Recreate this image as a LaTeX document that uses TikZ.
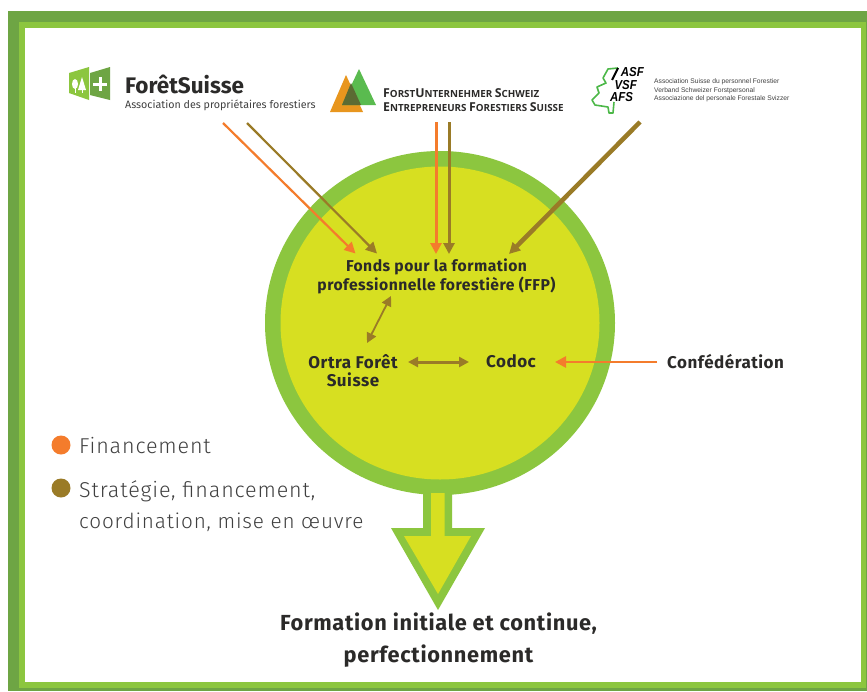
\documentclass[tikz,border=0pt]{standalone}
\usepackage{fontspec}
\usetikzlibrary{arrows.meta}
\setmainfont{Fira Sans}
\newfontfamily\libsans{Liberation Sans}
\newfontfamily\opensans{Open Sans}
\newfontfamily\firawide[LetterSpace=3]{Fira Sans}
\newfontfamily\firawider[LetterSpace=4]{Fira Sans Light}
\definecolor{darkgreen}{HTML}{6EA544}
\definecolor{lightgreen}{HTML}{8CC63F}
\definecolor{lime}{HTML}{D7DF21}
\definecolor{orangeline}{HTML}{F47C2C}
\definecolor{brownline}{HTML}{9A7B27}
\definecolor{inktext}{HTML}{2B2A29}
\definecolor{greytext}{HTML}{404040}
\definecolor{triorange}{HTML}{E8961E}
\definecolor{trigreen}{HTML}{5ABB4F}
\definecolor{trimix}{HTML}{5B6B33}
\definecolor{treegreen}{HTML}{4CB848}
\tikzset{
  flow/.style={line width=#1,-{Triangle[length=11pt,width=11pt]}},
  flow/.default=2.2pt,
  twoway/.style={line width=#1,{Triangle[length=10pt,width=10pt]}-{Triangle[length=10pt,width=10pt]}},
  lbl/.style={font=\firawide\bfseries\fontsize{17}{18.5}\selectfont,text=inktext,align=center,inner sep=0pt},
  lblsmall/.style={font=\firawide\bfseries\fontsize{15.7}{18.5}\selectfont,text=inktext,align=center,inner sep=0pt},
  biglbl/.style={font=\firawide\bfseries\fontsize{21.8}{32}\selectfont,text=inktext,align=center,inner sep=0pt},
  legendtxt/.style={font=\firawider\fontsize{21.5}{31}\selectfont,text=greytext,align=left,anchor=west,inner sep=0pt},
  dot/.style={circle,inner sep=0pt,minimum size=19pt},
  asfletter/.style={inner sep=0pt,xscale=0.88,font=\libsans\bfseries\itshape\fontsize{13}{13}\selectfont},
}
\newcommand{\bigsm}[2]{{\fontsize{12.3}{13}\selectfont #1}{\fontsize{9.8}{13}\selectfont #2}}
\begin{document}
\begin{tikzpicture}[x=1pt,y=-1pt]
\useasboundingbox (0,0) rectangle (867,691);
% frame
\fill[darkgreen] (8,11) rectangle (867,691);
\fill[lightgreen] (19,22) rectangle (866,688);
\fill[white] (25,28) rectangle (861,682);
% circle and big arrow
\fill[lightgreen] (440,323) ellipse (175 and 172);
\fill[lightgreen] (423,480) -- (452,480) -- (452,528) -- (485,528) -- (438,610) -- (391,528) -- (423,528) -- cycle;
\fill[lime] (440,323) ellipse (159.5 and 156.5);
\fill[lime] (431,493) -- (444.5,493) -- (444.5,536) -- (471,536) -- (438,594) -- (404,536) -- (431,536) -- cycle;
% logo ForetSuisse
\fill[lightgreen] (69,73) -- (89,67) -- (89,100) -- (69,93) -- cycle;
\fill[darkgreen] (90,73) -- (110,67) -- (110,100) -- (90,95) -- cycle;
\fill[white] (75,84) ellipse (3 and 5);
\fill[white] (74.5,84) rectangle (75.5,93);
\fill[white] (82,77) -- (86,90) -- (78,90) -- cycle;
\fill[white] (81.5,88) rectangle (82.5,93);
\fill[white] (98.5,77) rectangle (101.5,91);
\fill[white] (93,82.5) rectangle (107,85.5);
\node[anchor=west,inner sep=0pt,text=inktext,font=\bfseries\fontsize{22.5}{22}\selectfont] (fsname) at (125,84) {ForêtSuisse};
\node[anchor=west,inner sep=0pt,text=greytext,font=\fontsize{10.7}{12}\selectfont] (fssub) at (125,105) {Association des propriétaires forestiers};
% logo FUS
\fill[triorange] (346,75) -- (363,112) -- (330,112) -- cycle;
\fill[trigreen] (359,69) -- (376,105) -- (342,105) -- cycle;
\fill[trimix] (351,83) -- (361,105) -- (342,105) -- cycle;
\node[anchor=west,inner sep=0pt,text=inktext,font=\opensans\bfseries] (fus1) at (383,93) {\bigsm{F}{ORST}\bigsm{U}{NTERNEHMER} \bigsm{S}{CHWEIZ}};
\node[anchor=west,inner sep=0pt,text=inktext,font=\opensans\bfseries] (fus2) at (383,107) {\bigsm{E}{NTREPRENEURS} \bigsm{F}{ORESTIERS} \bigsm{S}{UISSE}};
% logo ASF
\draw[treegreen,line width=1.6pt,line join=round]
 (618,68) -- (608,69) -- (603,78) -- (606,83) -- (597,87) -- (599,93) -- (592,100) -- (595,105) -- (608,107) -- (609,113) -- (613,113) -- (614,102);
\draw[black,line width=2pt] (618,68) -- (612,80);
\node[asfletter,anchor=east] (asf1) at (644,72.5) {ASF};
\node[asfletter,anchor=east] (asf2) at (637,85) {VSF};
\node[asfletter,anchor=west] (asf3) at (610,97.5) {AFS};
\node[anchor=west,inner sep=0pt,align=left,text=greytext,font=\libsans\fontsize{6.7}{8.4}\selectfont] (asftxt) at (654,90.5) {Association Suisse du personnel Forestier\\Verband Schweizer Forstpersonal\\Associazione del personale Forestale Svizzer};
% labels
\node[lblsmall] (fonds) at (436.5,276.5) {Fonds pour la formation\\professionnelle forestière (FFP)};
\node[lbl] (ortra) at (353,370.5) {Ortra Forêt\\Suisse};
\node[lbl] (codoc) at (511,361.5) {Codoc};
\node[lbl,anchor=west] (conf) at (667,361.5) {Confédération};
\node[biglbl] (formation) at (438.5,640) {Formation initiale et continue,\\perfectionnement};
% legend
\node[dot,fill=orangeline] (dotA) at (61,445) {};
\node[dot,fill=brownline] (dotB) at (61,488) {};
\node[legendtxt] (legA) at (79,446) {Financement};
\node[legendtxt] (legB) at (79,506) {Stratégie, financement,\\{\fontsize{20.7}{31}\selectfont coordination, mise en œuvre}};
% connector ends
\coordinate (s1) at (223,123); \coordinate (e1) at (355.5,253.5);
\coordinate (s2) at (247,123); \coordinate (e2) at (377,253.5);
\coordinate (s3) at (436,122); \coordinate (e3) at (436,254);
\coordinate (s4) at (449,122); \coordinate (e4) at (449,254);
\coordinate (s5) at (640,122); \coordinate (e5) at (509,254);
\coordinate (d1) at (391,296); \coordinate (d2) at (367,343);
\coordinate (h1) at (408,362); \coordinate (h2) at (469,362);
\coordinate (c1) at (657,362); \coordinate (c2) at (555,362);
\draw[flow,orangeline] (s1) -- (e1);
\draw[flow,brownline] (s2) -- (e2);
\draw[flow=3pt,orangeline] (s3) -- (e3);
\draw[flow=3pt,brownline] (s4) -- (e4);
\draw[flow=4.5pt,brownline] (s5) -- (e5);
\draw[twoway=1.8pt,brownline] (d1) -- (d2);
\draw[twoway=3pt,brownline] (h1) -- (h2);
\draw[flow=2.6pt,orangeline] (c1) -- (c2);
\end{tikzpicture}
\end{document}
